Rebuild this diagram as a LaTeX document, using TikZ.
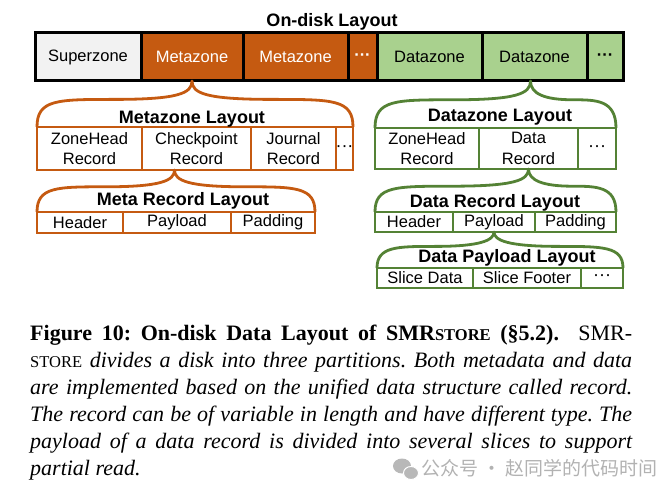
\documentclass[tikz,border=0pt]{standalone}
\usepackage{fontspec}
\setmainfont{Liberation Serif}
\setsansfont{Liberation Sans}
\newfontfamily\cjk{Noto Sans CJK SC}
\usetikzlibrary{calc}

\definecolor{metaorange}{HTML}{C55A11}
\definecolor{datagreen}{HTML}{548235}
\definecolor{datafill}{HTML}{A9D18E}
\definecolor{superfill}{HTML}{F2F2F2}

\newcommand{\fsc}[1]{{\fontsize{16.5}{20}\selectfont #1}}
\newcommand{\zdots}{\makebox[0pt]{\raisebox{-1pt}{\fontsize{18}{20}\selectfont···}}}
\newcommand{\bardots}{\textbf{···}}
\newcommand{\zonebrace}[4]{%
  \draw[brace, #1] let \p1=#2, \p2=#3, \p3=#4, \p4=($#2!0.6!#4$) in
    (\p1) .. controls (\x1,\y4) and ({\x1+20pt},\y4) .. ({0.5*\x1+0.5*\x3},\y4)
    .. controls ({\x3-14pt},\y4) and (\x3,{\y4+6pt}) .. (\p3)
    .. controls (\x3,{\y4+6pt}) and ({\x3+14pt},\y4) .. ({0.5*\x2+0.5*\x3},\y4)
    .. controls ({\x2-20pt},\y4) and (\x2,\y4) .. (\p2);}

\begin{document}
\begin{tikzpicture}[x=1pt, y=-1pt,
    zone/.style={draw=black, line width=3pt, minimum height=48pt, inner sep=0pt, outer sep=0pt, font=\sffamily\fontsize{16.5}{20}\selectfont},
    cell/.style={draw=#1, line width=2.5pt, inner sep=0pt, outer sep=0pt, align=center, font=\sffamily\fontsize{16.5}{20.5}\selectfont},
    title/.style={font=\sffamily\bfseries\fontsize{18}{20}\selectfont, inner sep=0pt},
    brace/.style={line width=2.8pt, line join=round}
]
\useasboundingbox (0,0) rectangle (670,500);

\node[title] (disk) at (332,22) {On-disk Layout};
\node[zone, fill=superfill, minimum width=106pt] (sz) at (88,57) {Superzone};
\node[zone, fill=metaorange, text=white, minimum width=102pt] (mz1) at (192,57) {Metazone};
\node[zone, fill=metaorange, text=white, minimum width=105pt] (mz2) at (295.5,57) {Metazone};
\node[zone, fill=metaorange, text=white, minimum width=29pt] (mzdots) at (362.5,57) {\bardots};
\node[zone, fill=datafill, minimum width=105pt] (dz1) at (429.5,57) {Datazone};
\node[zone, fill=datafill, minimum width=105pt] (dz2) at (534.5,57) {Datazone};
\node[zone, fill=datafill, minimum width=36pt] (dzdots) at (605,57) {\bardots};

\node[cell=metaorange, minimum width=105pt, minimum height=43pt] (mzl1) at (89.5,148.5) {ZoneHead\\Record};
\node[cell=metaorange, minimum width=109pt, minimum height=43pt] (mzl2) at (196.5,148.5) {Checkpoint\\Record};
\node[cell=metaorange, minimum width=85pt, minimum height=43pt] (mzl3) at (293.5,148.5) {Journal\\Record};
\node[cell=metaorange, minimum width=17pt, minimum height=43pt] (mzl4) at (344.5,148.5) {\zdots};
\node[title] (mztitle) at (192,119) {Metazone Layout};

\node[cell=metaorange, minimum width=86pt, minimum height=21pt] (mrl1) at (80,222.5) {Header};
\node[cell=metaorange, minimum width=108pt, minimum height=21pt] (mrl2) at (177,222.5) {Payload};
\node[cell=metaorange, minimum width=84pt, minimum height=21pt] (mrl3) at (273,222.5) {Padding};
\node[title] (mrtitle) at (183,201) {Meta Record Layout};

\node[cell=datagreen, minimum width=104pt, minimum height=41pt] (dzl1) at (427,148.5) {ZoneHead\\Record};
\node[cell=datagreen, minimum width=99pt, minimum height=41pt] (dzl2) at (528.5,148.5) {Data\\Record};
\node[cell=datagreen, minimum width=38pt, minimum height=41pt] (dzl3) at (597,148.5) {\zdots};
\node[title] (dztitle) at (500,117) {Datazone Layout};

\node[cell=datagreen, minimum width=78pt, minimum height=20pt] (drl1) at (414,222) {Header};
\node[cell=datagreen, minimum width=82pt, minimum height=20pt] (drl2) at (494,222) {Payload};
\node[cell=datagreen, minimum width=81pt, minimum height=20pt] (drl3) at (575.5,222) {Padding};
\node[title] (drtitle) at (495,203) {Data Record Layout};

\node[cell=datagreen, minimum width=96pt, minimum height=20pt] (dpl1) at (425,278) {Slice Data};
\node[cell=datagreen, minimum width=108pt, minimum height=20pt] (dpl2) at (527,278) {Slice Footer};
\node[cell=datagreen, minimum width=42pt, minimum height=20pt] (dpl3) at (602,278) {\zdots};
\node[title] (dptitle) at (507,258) {Data Payload Layout};

\coordinate (mrtip) at ($(mzl2.south)+(-22,0)$);
\coordinate (dztip) at ($(dz2.south)+(-4,0)$);
\zonebrace{metaorange}{(mzl1.north west)}{(mzl4.north east)}{(mz1.south)}
\zonebrace{metaorange}{(mrl1.north west)}{(mrl3.north east)}{(mrtip)}
\zonebrace{datagreen}{(dzl1.north west)}{(dzl3.north east)}{(dztip)}
\zonebrace{datagreen}{(drl1.north west)}{(drl3.north east)}{(dzl2.south)}
\zonebrace{datagreen}{(dpl1.north west)}{(dpl3.north east)}{(drl2.south)}

\node[anchor=north west, inner sep=0pt, text width=602pt, align=justify, font=\fontsize{22}{27}\selectfont\frenchspacing] (caption) at (30,325)
  {\textbf{Figure 10: On-disk Data Layout of SMR\fsc{STORE} (§5.2).}\ \ SMR-\linebreak
   \fsc{STORE} \textit{divides a disk into three partitions. Both metadata and data\linebreak
   are implemented based on the unified data structure called record.\linebreak
   The record can be of variable in length and have different type. The\linebreak
   payload of a data record is divided into several slices to support\linebreak
   partial read.}};

\fill[black!28] (402,466) ellipse (9 and 7.5);
\fill[black!28, draw=white, line width=1pt] (411,473) ellipse (7.5 and 6.5);
\node[font=\cjk\fontsize{19}{19}\selectfont, text=black!30, anchor=west, inner sep=0pt] (wm) at (421,468) {公众号 · 赵同学的代码时间};
\end{tikzpicture}
\end{document}
